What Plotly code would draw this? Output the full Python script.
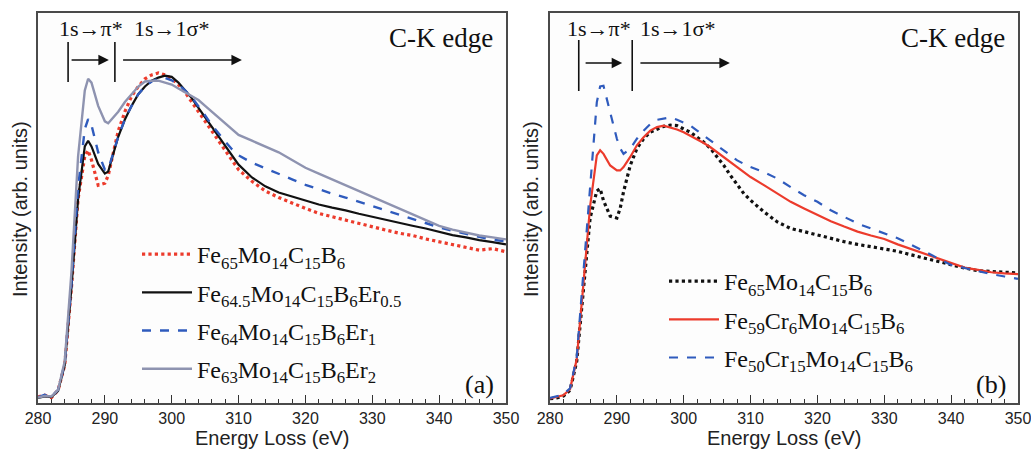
import plotly.graph_objects as go

# ---------------- data ----------------
energy = [280, 281, 282, 283, 284, 285, 286, 287, 287.5, 288, 289, 290, 290.5,
          291, 292, 293, 294, 295, 296, 297, 298, 299, 300, 301, 302, 303, 304,
          305, 306, 307, 308, 309, 310, 312, 314, 316, 318, 320, 322, 324, 326,
          328, 330, 332, 334, 336, 338, 340, 342, 344, 346, 348, 350]

# panel (a)
a_fe65 = [0.8, 1.2, 0.6, 2.5, 9, 29, 52, 63, 64.5, 62, 55.5, 56, 58,
          62, 69.5, 74.5, 78.5, 81, 83, 84, 84.5, 84, 83, 81.5, 79.5, 77, 74.5,
          72, 69.5, 67, 64.5, 62, 59.5, 56.5, 54, 52.3, 50.8, 49.5, 48.2, 47.3, 46.4,
          45.6, 44.7, 43.9, 43.1, 42.5, 41.6, 40.9, 40.3, 39.6, 38.7, 39.1, 38.3]
a_er05 = [0.5, 0.9, 0.7, 2.3, 9, 29, 52, 65.5, 67, 65.5, 61, 58.5, 59,
          62, 68, 72.5, 76, 79, 81, 82.5, 83.3, 83.8, 83.5, 82, 80, 78, 75.5,
          73, 70.5, 68, 65.5, 63, 60.8, 57.5, 55.2, 53.6, 52.5, 51.4, 50.5, 49.7, 49,
          48.1, 47.3, 46.5, 45.7, 45, 44.3, 43.4, 42.6, 42, 41.3, 40.8, 40.2]
a_er1 = [0.7, 1.3, 0.8, 2.6, 9.5, 30, 55, 70, 72.6, 71, 64, 59.5, 59.6,
         62.5, 68, 72.5, 76, 79, 81, 82.3, 83, 83.2, 82.6, 81.5, 80, 78.2, 76,
         73.5, 71, 68.8, 66.8, 64.8, 63.2, 61.3, 59.8, 58.3, 57, 55.6, 54.4, 53.3, 52.3,
         51.2, 50.2, 49.2, 48, 46.9, 45.7, 44.6, 43.7, 42.9, 42.2, 41.4, 41]
a_er2 = [0.6, 1.0, 0.9, 2.6, 10, 33, 63, 80, 83, 82, 76, 72, 71.5,
         72.5, 74.5, 77, 79, 81, 82.3, 82.5, 82.5, 82, 81.5, 80.5, 79.5, 78.5, 77.5,
         76, 74.5, 73, 71.5, 70, 68.5, 67, 65.5, 64, 62, 60, 58.5, 57, 55.5,
         54, 52.5, 51, 49.5, 48, 46.5, 45, 44, 43.2, 42.5, 42, 41.5]

# panel (b)
b_fe65 = [0.3, 0.5, 1.0, 2.5, 10, 28, 47, 54, 54.6, 51.5, 47.5, 47, 49.5,
          53.8, 60.6, 65, 67.5, 69.2, 70, 70.7, 71, 70.9, 70, 69.2, 67.9, 66.6, 65,
          62.8, 60.6, 58, 55.5, 53.3, 51.6, 48.6, 46, 44.3, 43.5, 42.6, 41.8, 40.9, 40.2,
          39.6, 39, 38.4, 37.5, 36.6, 35.8, 34.9, 34.1, 33.4, 33.2, 33, 32.8]
b_cr6 = [0.4, 0.8, 1.2, 2.8, 10.5, 30, 50, 63.2, 64.5, 63.6, 60.6, 59.3, 59.3,
         60.2, 62.8, 65.8, 67.9, 69.6, 70.5, 70.9, 70.5, 69.9, 69.2, 68.3, 67.5, 66.4, 65.3,
         64, 62.8, 61.5, 60.2, 58.9, 57.6, 55.5, 53.3, 51.2, 49.5, 47.8, 46.2, 44.8, 43.5,
         42.5, 41.6, 40.2, 39, 37.9, 36.6, 35.4, 34.2, 33.6, 33, 32.7, 32.5]
b_cr15 = [0.5, 1.0, 1.4, 3, 11, 33, 55.5, 76.9, 81, 81.2, 74.3, 67.5, 65,
          63.6, 64.9, 67.5, 69.6, 71.3, 72.4, 72.8, 73, 72.4, 71.7, 70.9, 69.6, 68.3, 67,
          65.8, 64.5, 63.2, 61.9, 61, 60.2, 58.9, 57.2, 55, 52.9, 51.2, 49, 47.3, 45.6,
          44.3, 43.1, 41.8, 40.1, 38.4, 36.6, 34.9, 34.1, 33.2, 32.5, 31.9, 31.3]

names_a = ["Fe<sub>65</sub>Mo<sub>14</sub>C<sub>15</sub>B<sub>6</sub>",
           "Fe<sub>64.5</sub>Mo<sub>14</sub>C<sub>15</sub>B<sub>6</sub>Er<sub>0.5</sub>",
           "Fe<sub>64</sub>Mo<sub>14</sub>C<sub>15</sub>B<sub>6</sub>Er<sub>1</sub>",
           "Fe<sub>63</sub>Mo<sub>14</sub>C<sub>15</sub>B<sub>6</sub>Er<sub>2</sub>"]
names_b = ["Fe<sub>65</sub>Mo<sub>14</sub>C<sub>15</sub>B<sub>6</sub>",
           "Fe<sub>59</sub>Cr<sub>6</sub>Mo<sub>14</sub>C<sub>15</sub>B<sub>6</sub>",
           "Fe<sub>50</sub>Cr<sub>15</sub>Mo<sub>14</sub>C<sub>15</sub>B<sub>6</sub>"]

x_ticks = [280, 290, 300, 310, 320, 330, 340, 350]

# ---------------- styles ----------------
RED = "#ec3b2c"
BLACK = "#111111"
BLUE = "#2f5bbd"
GRAY = "#8e93b0"
SERIF = "Liberation Serif, Times New Roman, serif"
SANS = "Liberation Sans, Arial, sans-serif"

fig = go.Figure()

styles_a = [(a_fe65, RED, "dot", 3.2), (a_er05, BLACK, "solid", 2.2),
            (a_er1, BLUE, "dash", 2.4), (a_er2, GRAY, "solid", 2.4)]
for i, (ys, col, dash, w) in enumerate(styles_a):
    fig.add_trace(go.Scatter(x=energy, y=ys, mode="lines", name=names_a[i],
                             line=dict(color=col, dash=dash, width=w),
                             xaxis="x", yaxis="y", legend="legend",
                             legendgroup="a%d" % i))

styles_b = [(b_fe65, BLACK, "dot", 3.2), (b_cr6, RED, "solid", 2.2),
            (b_cr15, BLUE, "dash", 2.2)]
for i, (ys, col, dash, w) in enumerate(styles_b):
    fig.add_trace(go.Scatter(x=energy, y=ys, mode="lines", name=names_b[i],
                             line=dict(color=col, dash=dash, width=w),
                             xaxis="x2", yaxis="y2", legend="legend2",
                             legendgroup="b%d" % i))

W, H = 1031, 452
TOP, BOT = 13, 403          # pixel rows of the plot frame
PH = BOT - TOP


def py(pix):               # pixel row -> paper / y-domain fraction
    return (BOT - pix) / PH


dom_a = [38 / W, 506 / W]
dom_b = [550 / W, 1018 / W]

axis_common = dict(range=[280, 350], tickvals=x_ticks, ticks="inside", ticklen=8,
                   tickwidth=1.3, tickcolor="#333", showline=True, linecolor="#4a4a4a",
                   linewidth=1.5, mirror=True, showgrid=False, zeroline=False,
                   tickfont=dict(family=SANS, size=16, color="#222"),
                   ticklabeloverflow="allow",
                   minor=dict(dtick=2, ticks="inside", ticklen=4, tickwidth=1.1,
                              tickcolor="#333"),
                   automargin=False)
yaxis_common = dict(range=[-0.8, 100], showticklabels=False, ticks="", showline=True,
                    linecolor="#4a4a4a", linewidth=1.5, mirror=True, showgrid=False,
                    zeroline=False, automargin=False)

legend_common = dict(font=dict(family=SERIF, size=24, color="#111"), bgcolor="rgba(0,0,0,0)",
                     xanchor="left", yanchor="top", itemwidth=50, tracegroupgap=4,
                     traceorder="grouped", itemclick=False)

fig.update_layout(
    width=W, height=H, margin=dict(l=0, r=0, t=TOP, b=H - BOT),
    paper_bgcolor="white", plot_bgcolor="#fdfdfd",
    xaxis=dict(domain=dom_a, anchor="y", **axis_common),
    yaxis=dict(domain=[0, 1], anchor="x", **yaxis_common),
    xaxis2=dict(domain=dom_b, anchor="y2", **axis_common),
    yaxis2=dict(domain=[0, 1], anchor="x2", **yaxis_common),
    legend=dict(x=137 / W, y=py(232), **legend_common),
    legend2=dict(x=664 / W, y=py(259), **legend_common),
)

# ---------------- annotations ----------------
C = dict(xanchor="center", yanchor="middle", showarrow=False)
ann = []
for xc, yl in [((dom_a[0] + dom_a[1]) / 2, 20 / W), ((dom_b[0] + dom_b[1]) / 2, 531 / W)]:
    ann.append(dict(text="Energy Loss (eV)", x=xc, y=py(438), xref="paper", yref="paper",
                    font=dict(family=SANS, size=20, color="#222"), **C))
    ann.append(dict(text="Intensity (arb. units)", x=yl, y=py(209), xref="paper",
                    yref="paper", textangle=-90,
                    font=dict(family=SANS, size=20, color="#222"), **C))

panels = [
    ("x", "y domain", 284.5, 291.5, (284.8, 290.6), (292.5, 310.5), "(a)"),
    ("x2", "y2 domain", 284.3, 292.3, (285.1, 290.8), (293.3, 306.9), "(b)"),
]
bar_rows = {"x": (82, 42), "x2": (91, 40)}
arrow_row = {"x": 60, "x2": 63}
pi_x = {"x": 288.0, "x2": 287.3}
sig_x = {"x": 300.0, "x2": 299.0}

shapes = []
for xr, yr, b1, b2, sa, la, lab in panels:
    for b in (b1, b2):
        shapes.append(dict(type="line", xref=xr, yref=yr, x0=b, x1=b,
                           y0=py(bar_rows[xr][0]), y1=py(bar_rows[xr][1]),
                           line=dict(color="#111", width=1.6)))
    for (s, e) in (sa, la):
        ann.append(dict(x=e, y=py(arrow_row[xr]), ax=s, ay=py(arrow_row[xr]),
                        xref=xr, yref=yr, axref=xr, ayref=yr,
                        showarrow=True, arrowhead=2, arrowsize=1.4, arrowwidth=1.5,
                        arrowcolor="#111", text=""))
    ann.append(dict(text="1s→π*", x=pi_x[xr], y=py(29), xref=xr, yref=yr,
                    font=dict(family=SERIF, size=22, color="#111"), **C))
    ann.append(dict(text="1s→1σ*", x=sig_x[xr], y=py(29), xref=xr, yref=yr,
                    font=dict(family=SERIF, size=22, color="#111"), **C))
    ann.append(dict(text="C-K edge", x=348.3, y=py(38), xref=xr, yref=yr,
                    xanchor="right", yanchor="middle", showarrow=False,
                    font=dict(family=SERIF, size=27, color="#111")))
    ann.append(dict(text=lab, x=348.5, y=py(384), xref=xr, yref=yr, xanchor="right",
                    yanchor="middle", showarrow=False,
                    font=dict(family=SERIF, size=26, color="#111")))

fig.update_layout(annotations=ann, shapes=shapes)
fig.write_html("out.html", config={"displayModeBar": False},
               post_script="document.body.style.margin='0px';")
